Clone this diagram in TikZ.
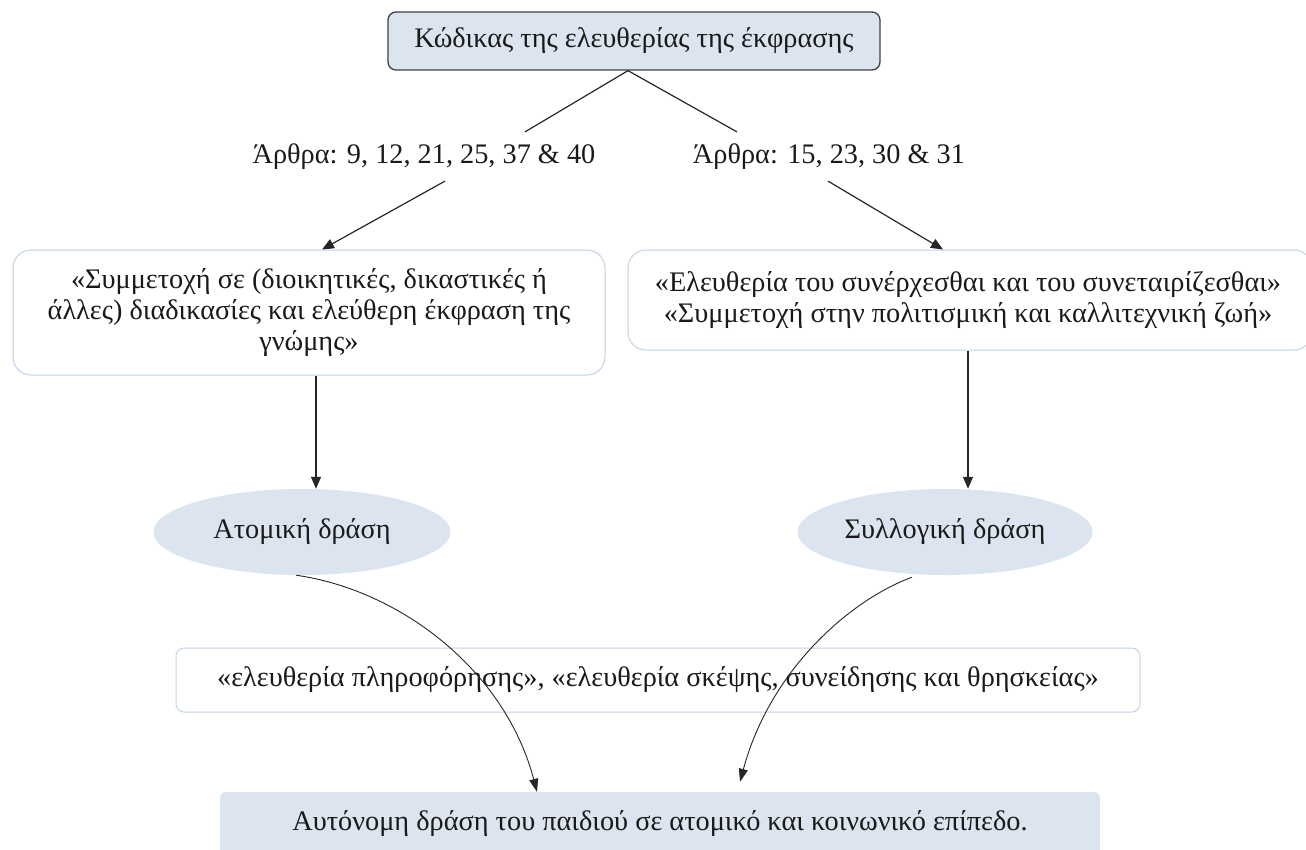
\documentclass[tikz,border=0pt]{standalone}
\usepackage{fontspec}
\setmainfont{Liberation Serif}
\usetikzlibrary{arrows.meta,shapes.geometric}
\definecolor{boxfill}{HTML}{DCE4F0}
\definecolor{boxline}{HTML}{C3D2E6}
\definecolor{topline}{HTML}{404040}
\definecolor{txt}{HTML}{1A1A1A}
\tikzset{
  txtstyle/.style={text=txt,font=\fontsize{28.3}{31}\selectfont,align=center,inner sep=0pt},
  topbox/.style={txtstyle,draw=topline,line width=1.3pt,fill=boxfill,rounded corners=8pt},
  whitebox/.style={txtstyle,draw=boxline,line width=1pt,fill=white,rounded corners=18pt},
  ellbox/.style={txtstyle,ellipse,fill=boxfill},
  endbox/.style={txtstyle,fill=boxfill,rounded corners=6pt},
  conn/.style={draw=black!85,line width=1.2pt},
  arr/.style={conn,-{Triangle[width=10pt,length=12pt]}},
  thin arr/.style={draw=black!85,line width=0.9pt,-{Triangle[width=9pt,length=13pt]}}
}
\begin{document}
\begin{tikzpicture}[x=1pt,y=-1pt]
\useasboundingbox (0,0) rectangle (1306,849);
\node[topbox,minimum width=492pt,minimum height=58pt] (top) at (634,41) {Κώδικας της ελευθερίας της έκφρασης};
\node[txtstyle] (lblL) at (424,157) {Άρθρα: 9, 12, 21, 25, 37 \& 40};
\node[txtstyle] (lblR) at (829,157) {Άρθρα: 15, 23, 30 \& 31};
\node[whitebox,minimum width=592pt,minimum height=125pt] (boxL) at (309,312.5) {«Συμμετοχή σε (διοικητικές, δικαστικές ή\\άλλες) διαδικασίες και ελεύθερη έκφραση της\\γνώμης»};
\node[whitebox,minimum width=684pt,minimum height=100pt] (boxR) at (970,300) {};
\node[txtstyle] (boxRtext) at (968,300) {«Ελευθερία του συνέρχεσθαι και του συνεταιρίζεσθαι»\\«Συμμετοχή στην πολιτισμική και καλλιτεχνική ζωή»};
\node[ellbox,minimum width=297pt,minimum height=86pt] (ellL) at (302,532) {Ατομική δράση};
\node[ellbox,minimum width=295pt,minimum height=86pt] (ellR) at (945,532) {Συλλογική δράση};
\node[whitebox,rounded corners=8pt,minimum width=964pt,minimum height=64pt] (mid) at (658,680) {«ελευθερία πληροφόρησης», «ελευθερία σκέψης, συνείδησης και θρησκείας»};
\node[endbox,minimum width=880pt,minimum height=64pt] (bot) at (660,824) {Αυτόνομη δράση του παιδιού σε ατομικό και κοινωνικό επίπεδο.};
\draw[conn] ([xshift=-6pt]top.south) -- ([xshift=101pt,yshift=12pt]lblL.north);
\draw[conn] ([xshift=-6pt]top.south) -- ([xshift=-92pt,yshift=12pt]lblR.north);
\draw[arr] ([xshift=21pt,yshift=-11pt]lblL.south) -- ([xshift=13pt]boxL.north);
\draw[arr] ([xshift=-1pt,yshift=-11pt]lblR.south) -- ([xshift=-27pt]boxR.north);
\draw[arr] ([xshift=7pt]boxL.south) -- ([xshift=14pt]ellL.north);
\draw[arr] ([xshift=-2pt]boxR.south) -- ([xshift=23pt]ellR.north);
\draw[thin arr] ([xshift=-6pt]ellL.south) .. controls (400,590) and (505,670) .. ([xshift=-123pt]bot.north);
\draw[thin arr] ([xshift=-33pt,yshift=-2pt]ellR.south) .. controls (850,600) and (770,670) .. ([xshift=80pt,yshift=10pt]bot.north);
\end{tikzpicture}
\end{document}
